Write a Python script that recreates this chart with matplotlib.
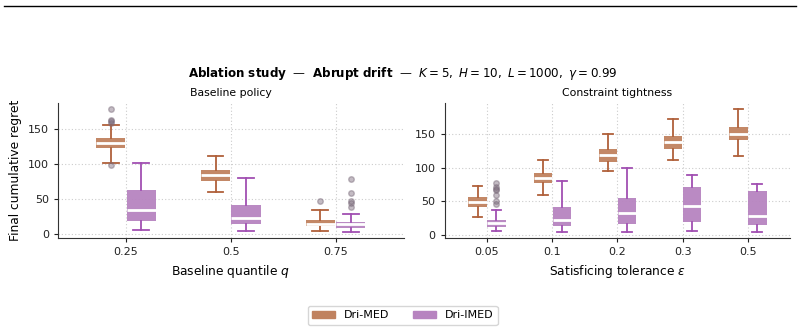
import matplotlib
matplotlib.use("Agg")
import matplotlib.pyplot as plt
from matplotlib.patches import Patch
from matplotlib.lines import Line2D

# ---- data ----
q_labels = ["0.25", "0.5", "0.75"]
eps_labels = ["0.05", "0.1", "0.2", "0.3", "0.5"]
methods = ["Dri-MED", "Dri-IMED"]

# Baseline policy panel: [whislo, q1, med, q3, whishi]
q_med_stats = [[102, 123, 130, 137, 155], [60, 76, 84, 92, 112], [4, 11, 14, 20, 34]]
q_imed_stats = [[6, 18, 34, 63, 101], [4, 14, 23, 41, 80], [3, 8.5, 14, 17, 28]]
q_med_fliers = [[178, 163, 161, 158, 99], [], [47]]
q_imed_fliers = [[], [], [78, 58, 46.5, 44, 39]]

# Constraint tightness panel
e_med_stats = [[27, 42, 49, 56, 73.5], [60, 77, 84.5, 92, 112], [95, 109, 119, 128, 151],
               [112, 128, 138, 147.5, 172], [118, 141.6, 150.5, 160.5, 187]]
e_imed_stats = [[5.5, 12.4, 17.4, 23, 37], [4.5, 14, 22, 41, 81], [5, 16.4, 33, 55, 100],
                [6.5, 19.4, 43, 71, 89], [4.5, 15, 28, 65.6, 76.5]]
e_med_fliers = [[], [], [], [], []]
e_imed_fliers = [[78, 72, 69, 67, 59, 50, 46], [], [], [], []]

# ---- style ----
fill_cols = ["#c0825f", "#b784c0"]
line_cols = ["#b0603a", "#a14fb2"]
offset = 0.145
width = 0.28

plt.rcParams["font.family"] = ["DejaVu Sans"]
fig = plt.figure(figsize=(8.04, 3.33), dpi=100)
ax1 = fig.add_axes([0.072, 0.285, 0.430, 0.405])
ax2 = fig.add_axes([0.553, 0.285, 0.430, 0.405])


def mkstats(s, fl):
    return dict(whislo=s[0], q1=s[1], med=s[2], q3=s[3], whishi=s[4], fliers=fl)


def draw(ax, labels, groups):
    n = len(labels)
    for k, (stats, fliers) in enumerate(groups):
        pos = [i + (-offset if k == 0 else offset) for i in range(n)]
        ax.bxp([mkstats(s, f) for s, f in zip(stats, fliers)], positions=pos,
               widths=width, patch_artist=True, showfliers=True,
               capwidths=0.15,
               boxprops=dict(facecolor=fill_cols[k], edgecolor=fill_cols[k], alpha=0.95, linewidth=0),
               medianprops=dict(color="white", linewidth=2),
               whiskerprops=dict(color=line_cols[k], linewidth=1.3),
               capprops=dict(color=line_cols[k], linewidth=1.3),
               flierprops=dict(marker="o", markersize=4, markerfacecolor="#7a6a7a",
                               markeredgecolor="#7a6a7a", alpha=0.45))
    ax.set_xticks(range(n))
    ax.set_xticklabels(labels)
    ax.set_xlim(-0.65, n - 1 + 0.65)
    ax.grid(True, linestyle=(0, (1, 2)), color="#cccccc", linewidth=0.8)
    ax.set_axisbelow(True)
    for sp in ["top", "right"]:
        ax.spines[sp].set_visible(False)
    for sp in ["left", "bottom"]:
        ax.spines[sp].set_color("#333333")
    ax.tick_params(labelsize=8, colors="#222222", length=3)


draw(ax1, q_labels, [(q_med_stats, q_med_fliers), (q_imed_stats, q_imed_fliers)])
draw(ax2, eps_labels, [(e_med_stats, e_med_fliers), (e_imed_stats, e_imed_fliers)])

ax1.set_title("Baseline policy", fontsize=7.8, pad=5)
ax2.set_title("Constraint tightness", fontsize=7.8, pad=5)
ax1.set_xlabel("Baseline quantile $q$", fontsize=8.8)
ax2.set_xlabel(r"Satisficing tolerance $\varepsilon$", fontsize=8.8)
ax1.set_ylabel("Final cumulative regret", fontsize=8.8)
ax1.set_yticks([0, 50, 100, 150])
ax2.set_yticks([0, 50, 100, 150])

fig.text(0.501, 0.78,
         r"$\bf{Ablation\ study}$  —  $\bf{Abrupt\ drift}$  —  $K = 5,\ H = 10,\ L = 1000,\ \gamma = 0.99$",
         ha="center", va="center", fontsize=8.6)

fig.add_artist(Line2D([0.005, 0.99], [0.982, 0.982], color="black", linewidth=1.0,
                      transform=fig.transFigure))

handles = [Patch(facecolor=fill_cols[i], edgecolor=fill_cols[i], label=methods[i]) for i in range(2)]
fig.legend(handles=handles, loc="center", bbox_to_anchor=(0.501, 0.053), ncol=2,
           fontsize=8, frameon=True, columnspacing=2.2, handlelength=2.0)

fig.savefig("out.png", dpi=100)
